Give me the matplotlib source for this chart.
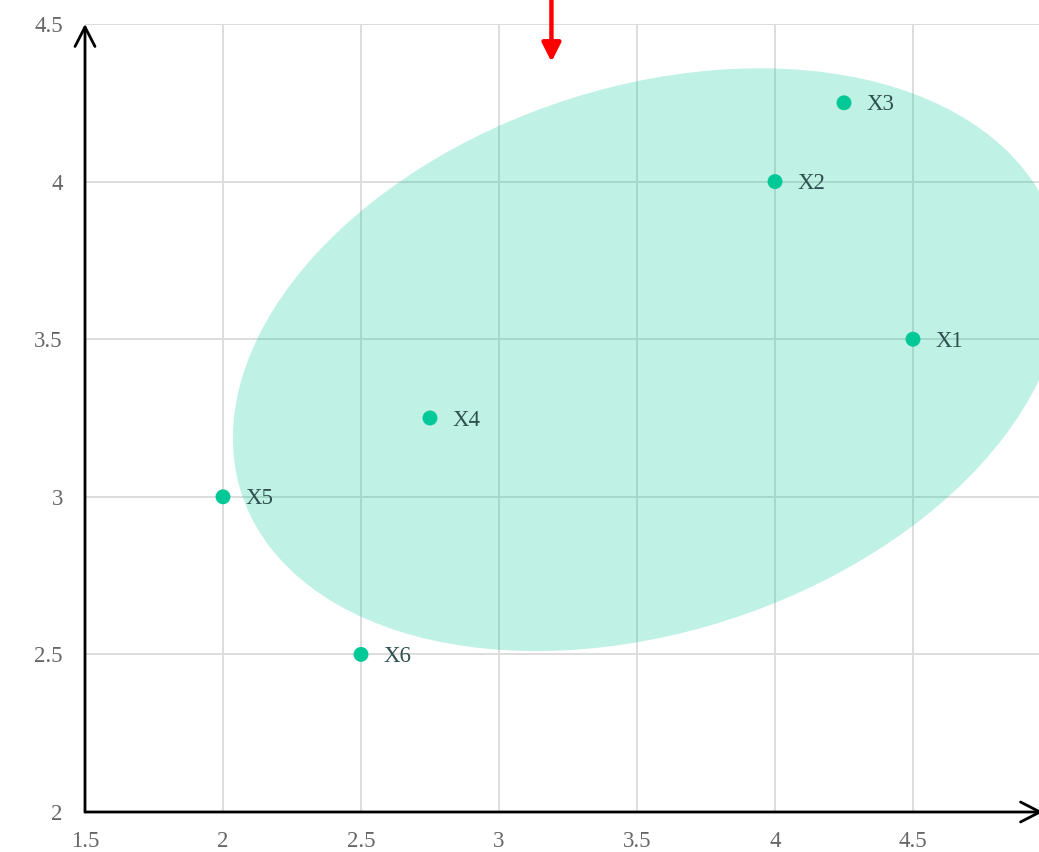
import matplotlib.pyplot as plt
from matplotlib.patches import Ellipse

# ===== Data =====
labels = ["X1", "X2", "X3", "X4", "X5", "X6"]
xs = [4.5, 4.0, 4.25, 2.75, 2.0, 2.5]
ys = [3.5, 4.0, 4.25, 3.25, 3.0, 2.5]

# shaded region (data units): centre, full width / height, rotation in degrees
ellipse_center = (3.54, 3.435)
ellipse_width = 3.07
ellipse_height = 1.745
ellipse_angle = 14.0

# red marker arrow pointing down at this position
marker_x = 3.19
marker_tip_y = 4.38

x_ticks = [1.5, 2, 2.5, 3, 3.5, 4, 4.5]
y_ticks = [2, 2.5, 3, 3.5, 4, 4.5]

POINT_COLOR = "#00c896"
TEXT_COLOR = "#2f4f4f"

plt.rcParams["font.family"] = ["Liberation Serif", "DejaVu Serif"]

fig = plt.figure(figsize=(10.39, 8.52), dpi=100)
W, H = 1039, 852
ax = fig.add_axes([85 / W, 40 / H, (1043 - 85) / W, (812 - 24) / H])
ax.set_xlim(1.5, 1.5 + (1043 - 85) / 276)
ax.set_ylim(2, 4.5)

ax.set_xticks(x_ticks)
ax.set_xticklabels([f"{t:g}" for t in x_ticks])
ax.set_yticks(y_ticks)
ax.set_yticklabels([f"{t:g}" for t in y_ticks])
ax.tick_params(length=0, labelsize=16.5, colors="#666666")
ax.tick_params(axis="y", pad=16)
ax.tick_params(axis="x", pad=13.5)
ax.grid(True, color="#dddddd", linewidth=1.4)
ax.set_axisbelow(True)
for s in ax.spines.values():
    s.set_visible(False)

ell = Ellipse(ellipse_center, ellipse_width, ellipse_height, angle=ellipse_angle,
              facecolor=POINT_COLOR, alpha=0.25, edgecolor="none", zorder=1)
ax.add_patch(ell)

ax.scatter(xs, ys, s=115, color=POINT_COLOR, edgecolors="none", zorder=3)
for x, y, lab in zip(xs, ys, labels):
    ax.annotate(lab, (x, y), xytext=(16, -1.5), textcoords="offset points",
                va="center", ha="left", fontsize=16.5, color=TEXT_COLOR, zorder=4)

# axis lines with open arrow heads
arrow_kw = dict(arrowstyle="->,head_length=0.7,head_width=0.36", lw=2,
                color="black", mutation_scale=20, shrinkA=0, shrinkB=0)
ax.annotate("", xy=(0, 1), xytext=(0, 0), xycoords="axes fraction",
            arrowprops=arrow_kw, annotation_clip=False)
ax.annotate("", xy=(1, 0), xytext=(0, 0), xycoords="axes fraction",
            arrowprops=arrow_kw, annotation_clip=False)

# red marker
ax.annotate("", xy=(marker_x, marker_tip_y), xytext=(marker_x, 4.7),
            arrowprops=dict(arrowstyle="-|>,head_length=0.75,head_width=0.38",
                            lw=3.2, color="red", mutation_scale=15,
                            shrinkA=0, shrinkB=0),
            annotation_clip=False)

fig.savefig("out.png", dpi=100)
